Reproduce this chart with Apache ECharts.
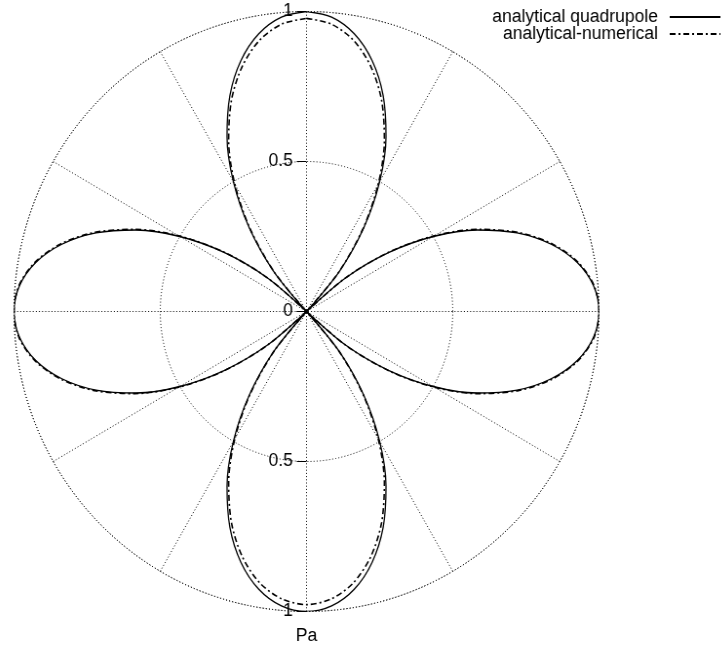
<!DOCTYPE html>
<html>
<head>
<meta charset="utf-8">
<title>Quadrupole directivity</title>
<script src="https://cdn.jsdelivr.net/npm/echarts@6/dist/echarts.min.js"></script>
<style>
  html, body { margin: 0; padding: 0; background: #fff; overflow: hidden; width: 728px; height: 647px; }
  #chart { width: 760px; height: 647px; transform: scaleX(0.975); transform-origin: 306.5px 0; }
</style>
</head>
<body>
<div id="chart"></div>
<script>
// Angle from the vertical axis, degrees
const angles = [
  0, 5, 10, 15, 20, 25, 30, 35, 40, 45,
  50, 55, 60, 65, 70, 75, 80, 85, 90,
  95, 100, 105, 110, 115, 120, 125, 130, 135,
  140, 145, 150, 155, 160, 165, 170, 175, 180,
  185, 190, 195, 200, 205, 210, 215, 220, 225,
  230, 235, 240, 245, 250, 255, 260, 265, 270,
  275, 280, 285, 290, 295, 300, 305, 310, 315,
  320, 325, 330, 335, 340, 345, 350, 355, 360
];

// Pressure amplitude, analytical quadrupole (Pa)
const quadrupole = [
  1.000, 0.985, 0.940, 0.866, 0.766, 0.643, 0.500, 0.342, 0.174, 0.000,
  0.174, 0.342, 0.500, 0.643, 0.766, 0.866, 0.940, 0.985, 1.000,
  0.985, 0.940, 0.866, 0.766, 0.643, 0.500, 0.342, 0.174, 0.000,
  0.174, 0.342, 0.500, 0.643, 0.766, 0.866, 0.940, 0.985, 1.000,
  0.985, 0.940, 0.866, 0.766, 0.643, 0.500, 0.342, 0.174, 0.000,
  0.174, 0.342, 0.500, 0.643, 0.766, 0.866, 0.940, 0.985, 1.000,
  0.985, 0.940, 0.866, 0.766, 0.643, 0.500, 0.342, 0.174, 0.000,
  0.174, 0.342, 0.500, 0.643, 0.766, 0.866, 0.940, 0.985, 1.000
];

// Pressure amplitude, analytical-numerical solution (Pa)
const numerical = [
  0.977, 0.962, 0.919, 0.847, 0.750, 0.630, 0.490, 0.336, 0.171, 0.000,
  0.176, 0.346, 0.505, 0.648, 0.771, 0.870, 0.943, 0.987, 1.000,
  0.987, 0.943, 0.870, 0.771, 0.648, 0.505, 0.346, 0.176, 0.000,
  0.171, 0.336, 0.490, 0.630, 0.750, 0.847, 0.919, 0.962, 0.977,
  0.962, 0.919, 0.847, 0.750, 0.630, 0.490, 0.336, 0.171, 0.000,
  0.176, 0.346, 0.505, 0.648, 0.771, 0.870, 0.943, 0.987, 1.000,
  0.987, 0.943, 0.870, 0.771, 0.648, 0.505, 0.346, 0.176, 0.000,
  0.171, 0.336, 0.490, 0.630, 0.750, 0.847, 0.919, 0.962, 0.977
];

const seriesNames = ['analytical quadrupole', 'analytical-numerical'];
const radiusTicks = [0, 0.5, 1];
const unitLabel = 'Pa';

const FONT = 'Liberation Sans, Arial, Helvetica, sans-serif';
const dotted = { type: [1, 2.2], color: '#000', width: 1 };

function toPolar(values) {
  return values.map((r, i) => [r, angles[i]]);
}

const chart = echarts.init(document.getElementById('chart'), null, { renderer: 'canvas' });

const radiusBase = {
  type: 'value',
  min: radiusTicks[0],
  max: radiusTicks[radiusTicks.length - 1],
  interval: radiusTicks[1] - radiusTicks[0],
  axisLine: { show: false },
  axisTick: { show: true, length: 10, lineStyle: { color: '#000', width: 1 } },
  axisLabel: { fontSize: 18, color: '#000', fontFamily: FONT, margin: 14 }
};

const legendBase = {
  right: 23,
  align: 'right',
  itemWidth: 52,
  itemHeight: 14,
  itemStyle: { opacity: 0, color: 'rgba(0,0,0,0)', borderWidth: 0 },
  textStyle: { fontSize: 18, color: '#000', fontFamily: FONT, lineHeight: 18, padding: [0, 7, 0, 0] }
};

chart.setOption({
  animation: false,
  backgroundColor: '#fff',
  polar: [
    { center: [306.5, 311.5], radius: 300 },
    { center: [306.5, 311.5], radius: 300 }
  ],
  angleAxis: [
    {
      polarIndex: 0,
      type: 'value', min: 0, max: 360, interval: 30,
      startAngle: 90, clockwise: true,
      axisLine: { show: true, lineStyle: dotted },
      axisTick: { show: false },
      axisLabel: { show: false },
      splitLine: { show: true, lineStyle: dotted }
    },
    {
      polarIndex: 1,
      type: 'value', min: 0, max: 360, interval: 30,
      startAngle: 270, clockwise: true,
      axisLine: { show: false },
      axisTick: { show: false },
      axisLabel: { show: false },
      splitLine: { show: false }
    }
  ],
  radiusAxis: [
    Object.assign({}, radiusBase, {
      polarIndex: 0,
      splitLine: { show: true, lineStyle: dotted }
    }),
    // Downward copy of the scale: ticks and labels kept on the left of the axis
    Object.assign({}, radiusBase, {
      polarIndex: 1,
      splitLine: { show: false },
      axisTick: Object.assign({}, radiusBase.axisTick, { length: -10 }),
      axisLabel: Object.assign({}, radiusBase.axisLabel, {
        margin: -14,
        align: 'right',
        formatter: v => (v === 0 ? '' : String(v))
      }),
      name: unitLabel,
      nameLocation: 'end',
      nameGap: 16,
      nameTextStyle: { fontSize: 18, color: '#000', fontFamily: FONT }
    })
  ],
  legend: [
    Object.assign({}, legendBase, { data: [seriesNames[0]], top: 3 }),
    Object.assign({}, legendBase, { data: [seriesNames[1]], top: 20 })
  ],
  series: [
    {
      name: seriesNames[0],
      type: 'line', coordinateSystem: 'polar', polarIndex: 0,
      data: toPolar(quadrupole),
      smooth: 0.3,
      symbol: 'none', showSymbol: false,
      lineStyle: { color: '#000', width: 1.3, type: 'solid' },
      itemStyle: { color: '#000' },
      z: 3
    },
    {
      name: seriesNames[1],
      type: 'line', coordinateSystem: 'polar', polarIndex: 0,
      data: toPolar(numerical),
      smooth: 0.3,
      symbol: 'none', showSymbol: false,
      lineStyle: { color: '#000', width: 1.6, type: [6, 3, 2, 3] },
      itemStyle: { color: '#000' },
      z: 4
    }
  ]
});
</script>
</body>
</html>
